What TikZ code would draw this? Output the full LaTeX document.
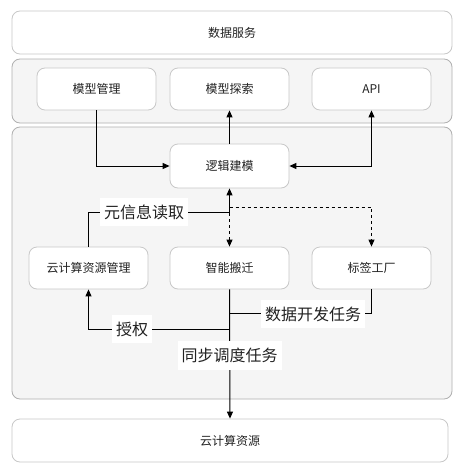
\documentclass[tikz,border=0pt]{standalone}
\usepackage{fontspec}
\setmainfont{Noto Sans CJK SC}
\usetikzlibrary{arrows.meta}
\definecolor{panelfill}{HTML}{F5F5F5}
\definecolor{panelline}{HTML}{B0B0B0}
\definecolor{boxline}{HTML}{C8C8C8}
\definecolor{txt}{HTML}{222222}
\begin{document}
\begin{tikzpicture}[x=1pt,y=-1pt,
  panel/.style={draw=panelline,fill=panelfill,rounded corners=8pt,line width=0.8pt,inner sep=0pt},
  wbox/.style={draw=boxline,fill=white,rounded corners=8pt,line width=0.8pt,inner sep=0pt,
     minimum width=119pt,minimum height=42pt,font=\fontsize{12}{14}\selectfont,text=txt},
  bigbox/.style={wbox,minimum width=440pt,minimum height=43pt},
  conn/.style={line width=1pt,black},
  tip/.tip={Triangle[length=7pt,width=6pt]},
  arr/.style={conn,-tip},
  lbl/.style={fill=white,inner xsep=4pt,inner ysep=7pt,font=\fontsize{16}{18}\selectfont,text=txt}
]
\useasboundingbox (0,0) rectangle (463,474);
\fill[white] (0,0) rectangle (463,474);
% layers
\node[bigbox] (ds) at (232,32.5) {数据服务};
\node[panel,minimum width=440pt,minimum height=64pt] (p2) at (232,91) {};
\node[panel,minimum width=440pt,minimum height=272pt] (p3) at (232,263) {};
\node[bigbox,minimum width=436pt] (yz) at (230,440.5) {云计算资源};
% boxes
\node[wbox] (mm) at (96.5,89) {模型管理};
\node[wbox] (ms) at (229.5,89) {模型探索};
\node[wbox] (api) at (371.5,89) {API};
\node[wbox,minimum height=44pt] (lj) at (229.5,166) {逻辑建模};
\node[wbox] (yj) at (88.5,268) {云计算资源管理};
\node[wbox] (zn) at (229.5,268) {智能搬迁};
\node[wbox] (bq) at (371.5,268) {标签工厂};
% coordinates
\coordinate (m1) at (229.5,212);
\coordinate (d1) at (229.5,207);
\coordinate (a1) at (229.5,329);
\coordinate (c1) at (229.5,313);
% connectors
\draw[arr] (mm.south) |- (lj.west);
\draw[arr] (lj.north) -- (ms.south);
\draw[conn,tip-tip] (lj.east) -| (api.south);
\draw[arr,dashed] (d1) -- (zn.north);
\draw[arr,dashed] (d1) -| (bq.north);
\draw[arr] (yj.north) |- (m1) -- (lj.south);
\draw[arr] (zn.south) -- (yz.north);
\draw[arr] (a1) -| (yj.south);
\draw[conn] (bq.south) |- (c1);
% labels
\node[lbl] (l1) at (144,212) {元信息读取};
\node[lbl] (l2) at (132,329) {授权};
\node[lbl] (l3) at (313,314) {数据开发任务};
\node[lbl] (l4) at (229.5,355.5) {同步调度任务};
\end{tikzpicture}
\end{document}
